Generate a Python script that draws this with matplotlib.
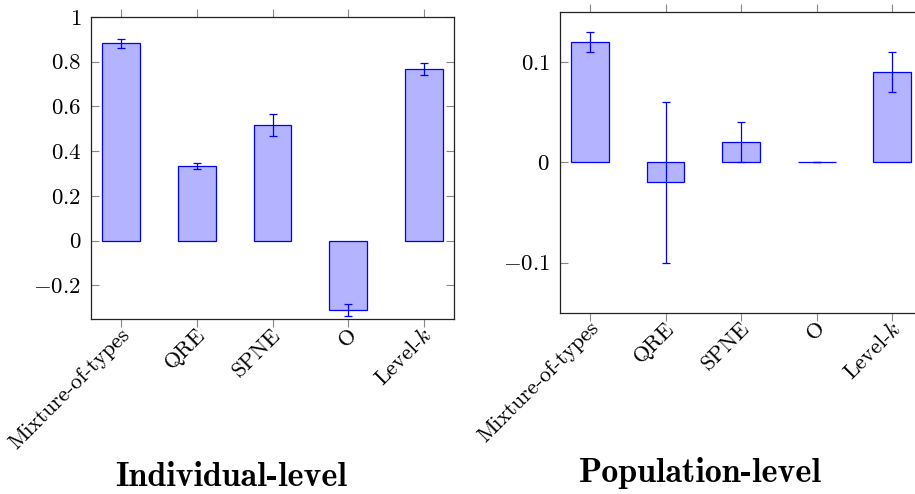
import matplotlib
matplotlib.use("Agg")
import matplotlib.pyplot as plt
import matplotlib.transforms as mtransforms
import numpy as np

plt.rcParams['font.family'] = ['cmr10', 'DejaVu Serif']
plt.rcParams['mathtext.fontset'] = 'cm'
plt.rcParams['axes.formatter.use_mathtext'] = True

# data
models = ['Mixture-of-types', 'QRE', 'SPNE', 'O', 'Level-$k$']

ind_vals = [0.883, 0.333, 0.517, -0.311, 0.767]
ind_err = [0.02, 0.012, 0.048, 0.028, 0.028]

pop_vals = [0.12, -0.02, 0.02, 0.0, 0.09]
pop_err = [0.01, 0.08, 0.02, 0.0, 0.02]

ind_yticks = [-0.2, 0, 0.2, 0.4, 0.6, 0.8, 1]
ind_ylabels = ['$-0.2$', '$0$', '$0.2$', '$0.4$', '$0.6$', '$0.8$', '$1$']
pop_yticks = [-0.1, 0, 0.1]
pop_ylabels = ['$-0.1$', '$0$', '$0.1$']

fill = '#b3b3ff'
edge = '#0000ff'


def draw_panel(ax, vals, errs, ylim, yticks, ylabels):
    x = np.arange(len(models))
    ax.bar(x, vals, width=0.5, color=fill, edgecolor=edge, linewidth=0.9, zorder=2)
    ax.errorbar(x, vals, yerr=errs, fmt='none', ecolor=edge, elinewidth=0.9,
                capsize=3, capthick=0.9, zorder=3)
    ax.set_xlim(-0.4, len(models) - 0.6)
    ax.set_ylim(*ylim)
    ax.set_yticks(yticks)
    ax.set_yticklabels(ylabels, fontsize=16.5)
    ax.set_xticks(x)
    ax.set_xticklabels(models, fontsize=16, rotation=45, ha='right', va='center',
                       rotation_mode='anchor')
    ax.tick_params(axis='x', direction='out', length=6, width=0.8, color='#888888',
                   top=True, pad=3)
    ax.tick_params(axis='y', direction='in', length=6, width=0.8, color='#888888',
                   right=True, pad=7)
    for s in ax.spines.values():
        s.set_linewidth(0.9)
        s.set_color('#222222')
    off = mtransforms.ScaledTranslation(4 / 72, 0, ax.figure.dpi_scale_trans)
    for lab in ax.get_xticklabels():
        lab.set_transform(lab.get_transform() + off)


fig = plt.figure(figsize=(9.15, 4.94), dpi=100)

ax1 = fig.add_axes([0.0995, 0.3543, 0.3967, 0.6113])
draw_panel(ax1, ind_vals, ind_err, (-0.351, 1.0), ind_yticks, ind_ylabels)

ax2 = fig.add_axes([0.6117, 0.367, 0.3966, 0.6093])
draw_panel(ax2, pop_vals, pop_err, (-0.15, 0.15), pop_yticks, pop_ylabels)

fig.text(231 / 915, 1 - 486 / 494, 'Individual-level', ha='center', va='baseline',
         fontfamily='cmb10', fontsize=24.5)
fig.text(700 / 915, 1 - 482 / 494, 'Population-level', ha='center', va='baseline',
         fontfamily='cmb10', fontsize=24.5)

fig.savefig('out.png', dpi=100)
